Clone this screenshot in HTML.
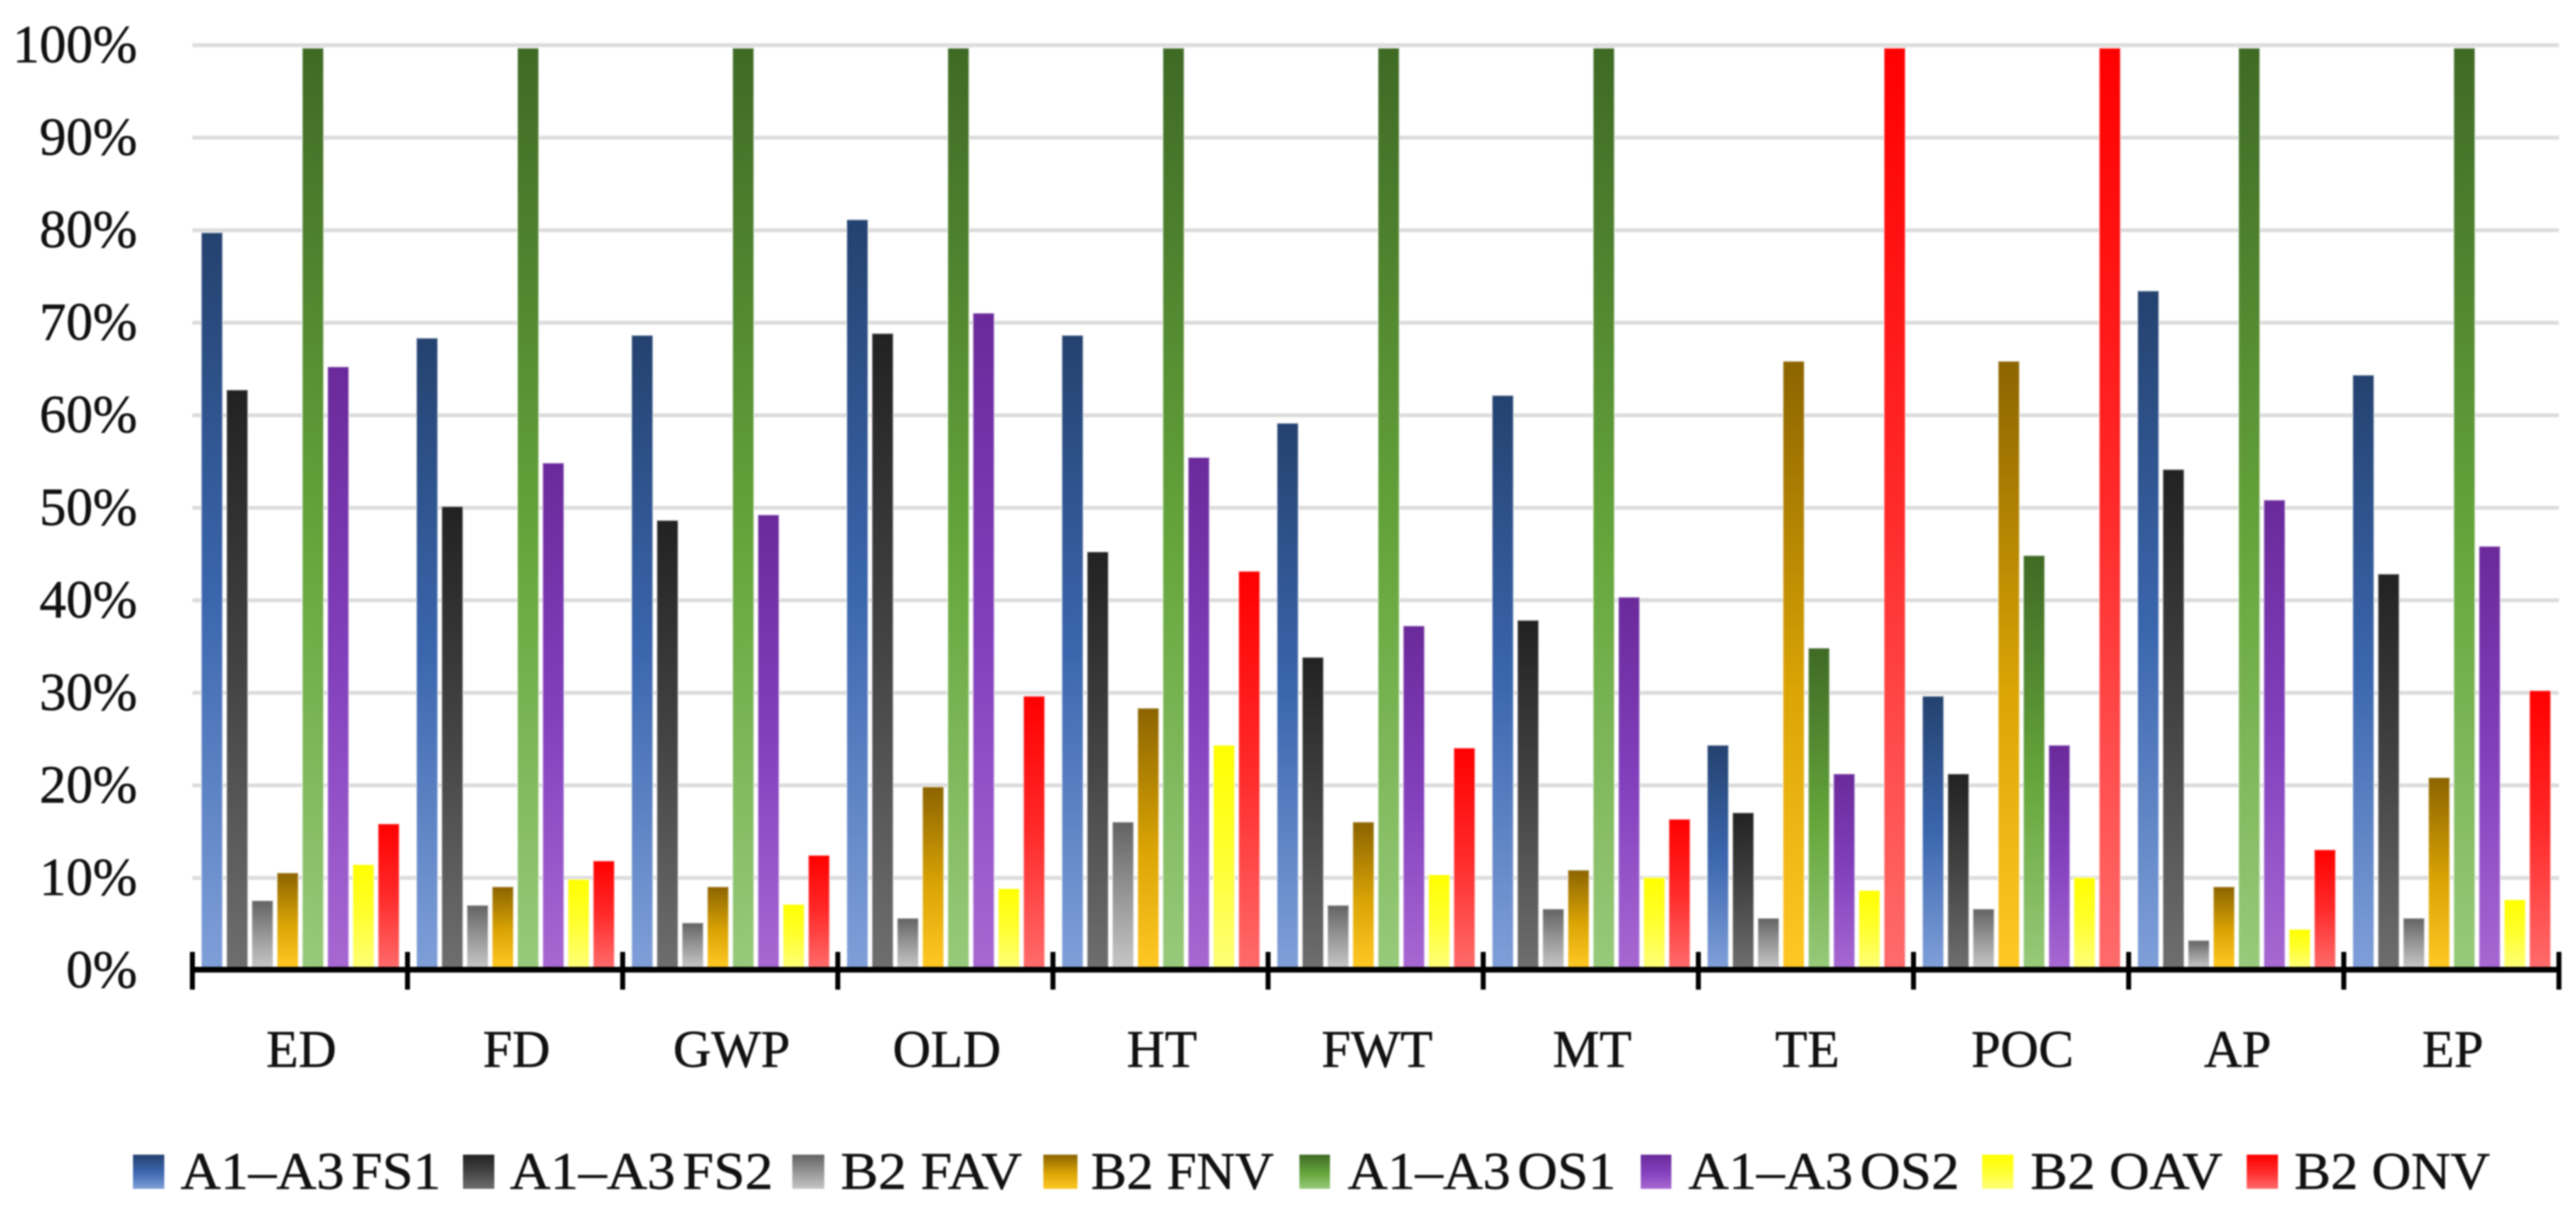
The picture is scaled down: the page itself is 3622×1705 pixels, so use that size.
<!DOCTYPE html>
<html lang="en">
<head>
<meta charset="utf-8">
<title>Bar chart</title>
<style>
html,body{margin:0;padding:0;background:#fff;width:3622px;height:1705px;overflow:hidden}
svg{display:block;filter:blur(1px)}
text{font-family:"Liberation Serif",serif;fill:#111;stroke:#111;stroke-width:.7px}
.tight{word-spacing:-9px}
</style>
</head>
<body>
<svg id="chart" xmlns="http://www.w3.org/2000/svg" width="3622" height="1705" viewBox="0 0 3622 1705">
<defs>
<linearGradient id="g0" x1="0" y1="0" x2="0" y2="1"><stop offset="0" stop-color="#24426f"/><stop offset=".5" stop-color="#3b66ae"/><stop offset="1" stop-color="#7f9fd9"/></linearGradient>
<linearGradient id="g1" x1="0" y1="0" x2="0" y2="1"><stop offset="0" stop-color="#222"/><stop offset=".5" stop-color="#444"/><stop offset="1" stop-color="#6e6e6e"/></linearGradient>
<linearGradient id="g2" x1="0" y1="0" x2="0" y2="1"><stop offset="0" stop-color="#636363"/><stop offset=".5" stop-color="#969696"/><stop offset="1" stop-color="#c6c6c6"/></linearGradient>
<linearGradient id="g3" x1="0" y1="0" x2="0" y2="1"><stop offset="0" stop-color="#8c6400"/><stop offset=".55" stop-color="#dba505"/><stop offset="1" stop-color="#ffc824"/></linearGradient>
<linearGradient id="g4" x1="0" y1="0" x2="0" y2="1"><stop offset="0" stop-color="#3f6a25"/><stop offset=".55" stop-color="#66a63c"/><stop offset="1" stop-color="#97ca7a"/></linearGradient>
<linearGradient id="g5" x1="0" y1="0" x2="0" y2="1"><stop offset="0" stop-color="#6a2a9a"/><stop offset=".5" stop-color="#8240bd"/><stop offset="1" stop-color="#a768d2"/></linearGradient>
<linearGradient id="g6" x1="0" y1="0" x2="0" y2="1"><stop offset="0" stop-color="#ffff00"/><stop offset=".5" stop-color="#ffff30"/><stop offset="1" stop-color="#ffff78"/></linearGradient>
<linearGradient id="g7" x1="0" y1="0" x2="0" y2="1"><stop offset="0" stop-color="#ff0000"/><stop offset=".5" stop-color="#ff2a2a"/><stop offset="1" stop-color="#ff6b6b"/></linearGradient>
</defs>
<g id="grid"></g>
<g id="ylabels"></g>
<g id="bars"></g>
<g id="axis"></g>
<g id="xlabels"></g>
<g font-size="74">
  <g><rect x="187" y="1623" width="44" height="48" fill="url(#g0)"/><text class="tight" x="254" y="1671" textLength="366" lengthAdjust="spacingAndGlyphs">A1–A3 FS1</text></g>
  <g><rect x="651" y="1623" width="44" height="48" fill="url(#g1)"/><text class="tight" x="717" y="1671" textLength="370" lengthAdjust="spacingAndGlyphs">A1–A3 FS2</text></g>
  <g><rect x="1114" y="1623" width="45" height="48" fill="url(#g2)"/><text x="1182" y="1671" textLength="255" lengthAdjust="spacingAndGlyphs">B2 FAV</text></g>
  <g><rect x="1467" y="1623" width="48" height="48" fill="url(#g3)"/><text x="1534" y="1671" textLength="257" lengthAdjust="spacingAndGlyphs">B2 FNV</text></g>
  <g><rect x="1827" y="1623" width="43" height="48" fill="url(#g4)"/><text class="tight" x="1895" y="1671" textLength="377" lengthAdjust="spacingAndGlyphs">A1–A3 OS1</text></g>
  <g><rect x="2307" y="1623" width="43" height="48" fill="url(#g5)"/><text class="tight" x="2374" y="1671" textLength="381" lengthAdjust="spacingAndGlyphs">A1–A3 OS2</text></g>
  <g><rect x="2787" y="1623" width="44" height="48" fill="url(#g6)"/><text x="2855" y="1671" textLength="270" lengthAdjust="spacingAndGlyphs">B2 OAV</text></g>
  <g><rect x="3159" y="1623" width="44" height="48" fill="url(#g7)"/><text x="3226" y="1671" textLength="275" lengthAdjust="spacingAndGlyphs">B2 ONV</text></g>
</g>
</svg>
<script>
const categories = ["ED","FD","GWP","OLD","HT","FWT","MT","TE","POC","AP","EP"];
const yTicks = [0,10,20,30,40,50,60,70,80,90,100];
const seriesNames = ["a1-a3-fs1","a1-a3-fs2","b2-fav","b2-fnv","a1-a3-os1","a1-a3-os2","b2-oav","b2-onv"];
const a1a3Fs1 = [79.9,68.5,68.8,81.3,68.8,59.3,62.3,24.5,29.8,73.6,64.5];
const a1a3Fs2 = [62.9,50.3,48.8,69.0,45.4,34.0,38.0,17.2,21.4,54.3,43.0];
const b2Fav   = [7.7,7.2,5.3,5.8,16.2,7.2,6.8,5.8,6.8,3.4,5.8];
const b2Fnv   = [10.7,9.2,9.2,20.0,28.5,16.2,11.0,66.0,66.0,9.2,21.0];
const a1a3Os1 = [100,100,100,100,100,100,100,35.0,45.0,100,100];
const a1a3Os2 = [65.4,55.0,49.4,71.2,55.6,37.4,40.5,21.4,24.5,51.0,46.0];
const b2Oav   = [11.6,10.0,7.3,9.0,24.5,10.5,10.2,8.8,10.2,4.6,7.8];
const b2Onv   = [16.0,12.0,12.6,29.8,43.3,24.2,16.5,100,100,13.2,30.4];
const allSeries = [a1a3Fs1,a1a3Fs2,b2Fav,b2Fnv,a1a3Os1,a1a3Os2,b2Oav,b2Onv];

const NS = "http://www.w3.org/2000/svg";
const plotLeft = 270.5, plotRight = 3598, plotBottom = 1364, plotTop = 63.5;
const barWidth = 30, barPitch = 35.5, barOffset = 12.5, barTopInset = 2, barFullInset = 4, barBottomGap = 4;

function yScale(v){ return plotBottom - (v/100)*(plotBottom-plotTop); }
function groupWidth(){ return (plotRight-plotLeft)/categories.length; }
function xGroup(i){ return plotLeft + i*groupWidth(); }
function xBar(i,s){ return xGroup(i) + barOffset + s*barPitch; }
function make(tag,attrs,parent){
  const el = document.createElementNS(NS,tag);
  for(const k in attrs){ el.setAttribute(k,attrs[k]); }
  parent.appendChild(el);
  return el;
}

const gridG = document.getElementById("grid");
const yLabG = document.getElementById("ylabels");
yTicks.forEach(function(t){
  if(t>0){
    const line = make("line",{x1:plotLeft,x2:plotRight,y1:yScale(t),y2:yScale(t),stroke:"#dcdcdc","stroke-width":5.5},gridG);
    
    
  }
  const lab = make("text",{x:193,y:yScale(t)+24,"text-anchor":"end","font-size":75},yLabG);
  lab.textContent = t+"%";
  
  
});

const barsG = document.getElementById("bars");
allSeries.forEach(function(values,s){
  values.forEach(function(v,i){
    const top = Math.max(yScale(v)+barTopInset, plotTop+barFullInset);
    const bar = make("rect",{x:xBar(i,s),y:top,width:barWidth,height:Math.max(0,plotBottom-barBottomGap-top),fill:"url(#g"+s+")",stroke:"#fff","stroke-opacity":.5,"stroke-width":2},barsG);
    
    
  });
});

const axisG = document.getElementById("axis");
const xLabG = document.getElementById("xlabels");
const axisLine = make("line",{x1:plotLeft-2,x2:plotRight+2,y1:plotBottom-1,y2:plotBottom-1,stroke:"#000","stroke-width":8},axisG);


for(let i=0;i<=categories.length;i++){
  const tick = make("line",{x1:xGroup(i),x2:xGroup(i),y1:plotBottom-26,y2:plotBottom+27,stroke:"#000","stroke-width":7},axisG);
  
  
}
categories.forEach(function(c,i){
  const lab = make("text",{x:xGroup(i)+groupWidth()/2+2,y:1499.5,"text-anchor":"middle","font-size":74},xLabG);
  lab.textContent = c;
  
  
});
</script>
</body>
</html>
